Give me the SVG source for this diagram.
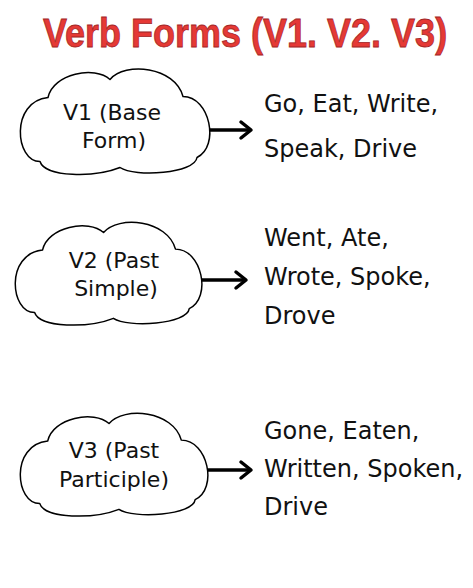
<svg xmlns="http://www.w3.org/2000/svg" width="473" height="588" viewBox="0 0 473 588">
  <defs>
    <style>
      .title { font-family: "Liberation Sans", Arial, sans-serif; font-weight: bold; font-size: 36px; fill: #e53935; stroke: #a32626; stroke-width: 0.7; }
      .cloud { fill: #ffffff; stroke: #000000; stroke-width: 1.5; stroke-linejoin: round; }
      .ctext { font-family: "DejaVu Sans", sans-serif; font-size: 22px; fill: #111111; text-anchor: middle; }
      .items { font-family: "DejaVu Sans", sans-serif; font-size: 24px; fill: #111111; }
      .arrow { fill: none; stroke: #000000; stroke-width: 3.5; marker-end: url(#chev); }
    </style>
    <marker id="chev" markerUnits="userSpaceOnUse" markerWidth="16" markerHeight="22" viewBox="0 0 16 22" refX="13" refY="11" orient="auto">
      <path d="M3,3 L13,11 L3,19" fill="none" stroke="#000000" stroke-width="3.5" stroke-linecap="round" stroke-linejoin="round"/>
    </marker>
    <path id="cloudShape" d="M-67,-24 C-62,-48 -20,-56 -5,-42 C10,-60 60,-55 68,-25 C95,-25 105,25 82,36 C80,52 20,56 5,46 C-20,56 -70,56 -75,40 C-100,40 -105,-20 -67,-24 Z"/>
  </defs>
  <rect width="473" height="588" fill="#ffffff"/>

  <text class="title" x="0" y="0" transform="translate(43,47) scale(1,1.12)">Verb Forms (V1. V2. V3)</text>

  <g id="connectors">
    <path class="arrow" d="M208,130 H251"/>
    <path class="arrow" d="M202,280 H246"/>
    <path class="arrow" d="M208,470 H251"/>
  </g>

  <g id="v1">
    <use href="#cloudShape" class="cloud" transform="translate(115,121.5)"/>
    <text class="ctext" x="112" y="120">V1 (Base</text>
    <text class="ctext" x="114" y="148">Form)</text>
  </g>
  <g id="v1-list">
    <text class="items" x="264" y="112">Go, Eat, Write,</text>
    <text class="items" x="264" y="157">Speak, Drive</text>
  </g>

  <g id="v2">
    <use href="#cloudShape" class="cloud" transform="translate(108.5,273.5) scale(0.985,0.975)"/>
    <text class="ctext" x="114" y="268">V2 (Past</text>
    <text class="ctext" x="116" y="296">Simple)</text>
  </g>
  <g id="v2-list">
    <text class="items" x="264" y="246">Went, Ate,</text>
    <text class="items" x="264" y="285">Wrote, Spoke,</text>
    <text class="items" x="264" y="324">Drove</text>
  </g>

  <g id="v3">
    <use href="#cloudShape" class="cloud" transform="translate(114,464.5) scale(0.99,0.975)"/>
    <text class="ctext" x="114" y="458">V3 (Past</text>
    <text class="ctext" x="114" y="487">Participle)</text>
  </g>
  <g id="v3-list">
    <text class="items" x="264" y="439">Gone, Eaten,</text>
    <text class="items" x="264" y="477">Written, Spoken,</text>
    <text class="items" x="264" y="515">Drive</text>
  </g>
</svg>
